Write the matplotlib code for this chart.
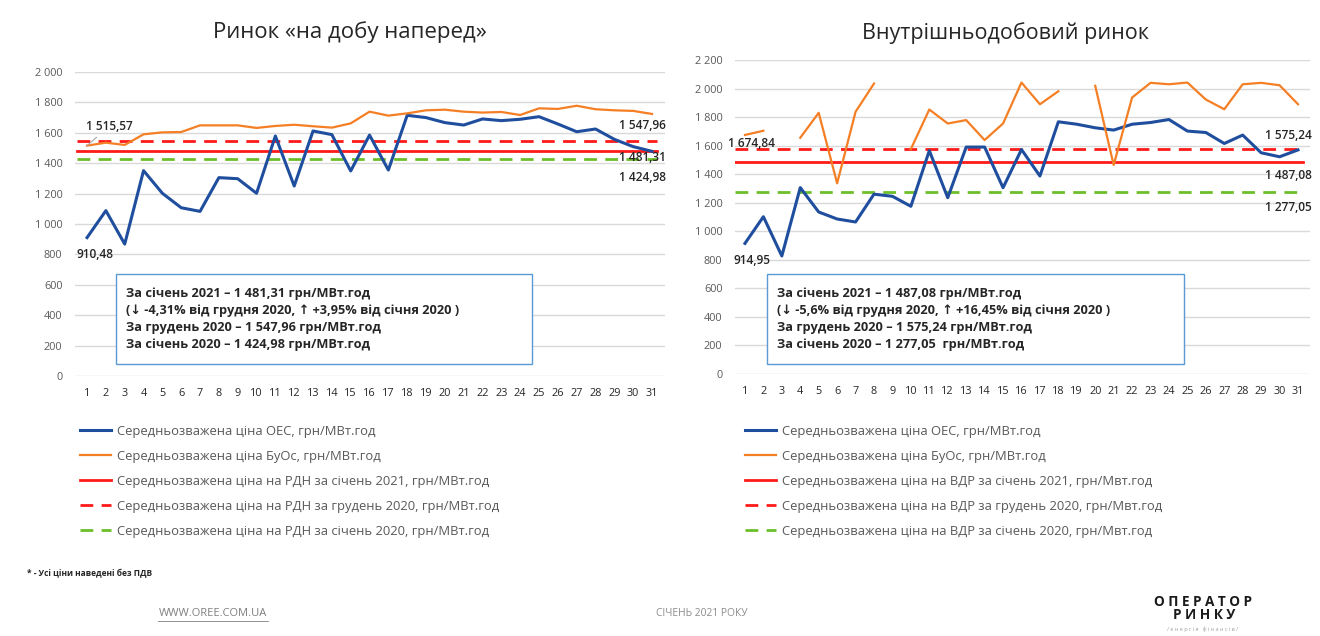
import numpy as np
import matplotlib
matplotlib.use("Agg")
import matplotlib.pyplot as plt
from matplotlib.patches import Rectangle
from matplotlib.ticker import FuncFormatter

plt.rcParams["font.family"] = ["Open Sans", "DejaVu Sans"]

days = list(range(1, 32))

# Ринок на добу наперед
rdn_oes = [910.48, 1088, 868, 1351, 1202, 1107, 1083, 1305, 1298, 1202, 1579,
           1250, 1612, 1588, 1349, 1585, 1355, 1715, 1700, 1667, 1651, 1691,
           1680, 1689, 1706, 1658, 1607, 1625, 1557, 1509, 1478]
rdn_buos = [1515.57, 1535, 1520, 1590, 1603, 1605, 1649, 1649, 1649, 1632, 1645,
            1653, 1643, 1634, 1662, 1739, 1713, 1728, 1748, 1752, 1739, 1733,
            1737, 1717, 1761, 1757, 1778, 1755, 1748, 1744, 1724]
rdn_jan21 = 1481.31
rdn_dec20 = 1547.96
rdn_jan20 = 1424.98

# Внутрішньодобовий ринок (None = немає даних)
vdr_oes = [914.95, 1102, 827, 1306, 1135, 1086, 1065, 1260, 1245, 1175, 1565,
           1235, 1590, 1590, 1305, 1573, 1387, 1767, 1750, 1725, 1709, 1750,
           1762, 1783, 1702, 1692, 1615, 1674, 1550, 1522, 1570]
vdr_buos = [1674.84, 1704, None, 1655, 1830, 1336, 1837, 2035, None, 1576, 1853,
            1755, 1779, 1639, 1755, 2042, 1890, 1981, None, 2019, 1464, 1937,
            2040, 2030, 2042, 1923, 1855, 2030, 2040, 2023, 1890]
vdr_jan21 = 1487.08
vdr_dec20 = 1575.24
vdr_jan20 = 1277.05

BLUE = "#1f4e9e"
ORANGE = "#f47f24"
RED = "#ff1a1a"
GREEN = "#6cbf2a"
GRID = "#d9d9d9"
TXT = "#595959"
DARK = "#262626"
DASH = (0, (4.6, 3.0))


def fmt_num(v, _=None):
    return f"{int(v):,}".replace(",", " ")


def fmt_val(v):
    s = f"{v:,.2f}"
    return s.replace(",", " ").replace(".", ",")


def draw_panel(ax, oes, buos, jan21, dec20, jan20, ymax, market, box_lines, opts):
    x = np.array(days)
    buos_arr = np.array([np.nan if v is None else v for v in buos], dtype=float)
    ax.plot(x, oes, color=BLUE, lw=2.2, label="Середньозважена ціна ОЕС, грн/МВт.год", zorder=4)
    ax.plot(x, buos_arr, color=ORANGE, lw=1.6, label="Середньозважена ціна БуОс, грн/МВт.год", zorder=4)
    xs = [0.45, 31.25]
    unit = "грн/МВт.год" if market == "РДН" else "грн/Мвт.год"
    ax.plot(xs, [jan21] * 2, color=RED, lw=2.0,
            label=f"Середньозважена ціна на {market} за січень 2021, {unit}", zorder=3)
    ax.plot(xs, [dec20] * 2, color=RED, lw=2.0, ls=DASH,
            label=f"Середньозважена ціна на {market} за грудень 2020, {unit}", zorder=3)
    ax.plot(xs, [jan20] * 2, color=GREEN, lw=2.0, ls=DASH,
            label=f"Середньозважена ціна на {market} за січень 2020, {unit}", zorder=3)

    ax.set_ylim(0, ymax)
    ax.set_yticks(np.arange(0, ymax + 1, 200))
    ax.yaxis.set_major_formatter(FuncFormatter(fmt_num))
    ax.set_xticks(days)
    ax.grid(axis="y", color=GRID, lw=1.0)
    ax.set_axisbelow(True)
    for s in ax.spines.values():
        s.set_visible(False)
    ax.tick_params(axis="both", length=0, labelcolor=TXT, labelsize=7.8)
    ax.tick_params(axis="y", pad=9)
    ax.tick_params(axis="x", pad=9, labelcolor=DARK)

    # value labels
    first_oes, first_buos = oes[0], buos[0]
    kw = dict(fontsize=8.6, color=DARK, fontweight="semibold", ha="center", va="center",
              textcoords="offset points", zorder=6)
    ax.annotate(fmt_val(first_oes), (1, first_oes), xytext=opts["oes"], **kw)
    ax.annotate(fmt_val(first_buos), (1, first_buos), xytext=opts["buos"],
                arrowprops=opts.get("arrow"), **kw)
    ax.annotate(fmt_val(dec20), (30.5, dec20), xytext=(0, opts["dec"]), **kw)
    ax.annotate(fmt_val(jan21), (30.5, jan21), xytext=(0, opts["jan21"]), **kw)
    ax.annotate(fmt_val(jan20), (30.5, jan20), xytext=(0, opts["jan20"]), **kw)

    # info box
    bx0, by0, bx1, by1 = opts["box"]
    ax.add_patch(Rectangle((bx0, by0), bx1 - bx0, by1 - by0, transform=ax.transAxes,
                           fc="white", ec="#5b9bd5", lw=1.0, zorder=5))
    ax.text(opts["text_x"], (by0 + by1) / 2, "\n".join(box_lines), transform=ax.transAxes,
            fontsize=9.2, fontweight="bold", color=DARK, va="center", ha="left",
            linespacing=1.42, zorder=6)


fig = plt.figure(figsize=(13.2, 6.36), dpi=100)
fig.patch.set_facecolor("white")

ax1 = fig.add_axes([75 / 1320, 1 - 376 / 636, 590 / 1320, 304 / 636])
ax1.set_xlim(0.36, 31.69)
ax2 = fig.add_axes([735 / 1320, 1 - 374 / 636, 575 / 1320, 314 / 636])
ax2.set_xlim(0.46, 31.65)

draw_panel(ax1, rdn_oes, rdn_buos, rdn_jan21, rdn_dec20, rdn_jan20, 2000, "РДН",
           ["За січень 2021 – 1 481,31 грн/МВт.год",
            "(↓ -4,31% від грудня 2020, ↑ +3,95% від січня 2020 )",
            "За грудень 2020 – 1 547,96 грн/МВт.год",
            "За січень 2020 – 1 424,98 грн/МВт.год"],
           dict(oes=(6, -12), buos=(16, 14), dec=11, jan21=-5, jan20=-13,
                box=(0.0695, 0.0395, 0.7746, 0.3355), text_x=0.0864,
                arrow=dict(arrowstyle="-", color="#a6a6a6", lw=0.8, shrinkA=2, shrinkB=0)))
draw_panel(ax2, vdr_oes, vdr_buos, vdr_jan21, vdr_dec20, vdr_jan20, 2200, "ВДР",
           ["За січень 2021 – 1 487,08 грн/МВт.год",
            "(↓ -5,6% від грудня 2020, ↑ +16,45% від січня 2020 )",
            "За грудень 2020 – 1 575,24 грн/МВт.год",
            "За січень 2020 – 1 277,05  грн/МВт.год"],
           dict(oes=(5, -12), buos=(5, -6), dec=10, jan21=-10, jan20=-11,
                box=(0.0557, 0.0318, 0.781, 0.3185), text_x=0.073))

fig.text(350 / 1320, 1 - 32 / 636, "Ринок «на добу наперед»", fontsize=16, color=DARK,
         ha="center", va="center")
fig.text(1006 / 1320, 1 - 33 / 636, "Внутрішньодобовий ринок", fontsize=15.5, color=DARK,
         ha="center", va="center")

for ax, lx in ((ax1, 68), (ax2, 733)):
    ax.legend(loc="upper left", bbox_to_anchor=(lx / 1320, 1 - 413 / 636),
              bbox_transform=fig.transFigure, frameon=False, fontsize=9.4,
              labelcolor=TXT, handlelength=2.4, handletextpad=0.45, labelspacing=0.92)

fig.text(27 / 1320, 1 - 573 / 636, "* - Усі ціни наведені без ПДВ", fontsize=6.0,
         fontweight="bold", color=DARK, va="center")
fig.text(213 / 1320, 1 - 614 / 636, "WWW.OREE.COM.UA", fontsize=8.0, color="#7f7f7f",
         ha="center", va="center")
fig.add_artist(plt.Line2D([158 / 1320, 268 / 1320], [1 - 621 / 636] * 2, color="#7f7f7f", lw=0.6))
fig.text(702 / 1320, 1 - 614 / 636, "СІЧЕНЬ 2021 РОКУ", fontsize=7.4, color="#8c8c8c",
         ha="center", va="center")
fig.text(1203 / 1320, 1 - 602 / 636, "О П Е Р А Т О Р", fontsize=9.8, fontweight="bold",
         color="#1a1a1a", ha="center", va="center")
fig.text(1204 / 1320, 1 - 615 / 636, "Р И Н К У", fontsize=9.8, fontweight="bold",
         color="#1a1a1a", ha="center", va="center")
fig.text(1203 / 1320, 1 - 629 / 636, "/ е н е р г і я   ф і н а н с і в /", fontsize=4,
         color="#a0a0a0", ha="center", va="center")

fig.savefig("out.png", dpi=100, facecolor="white")
